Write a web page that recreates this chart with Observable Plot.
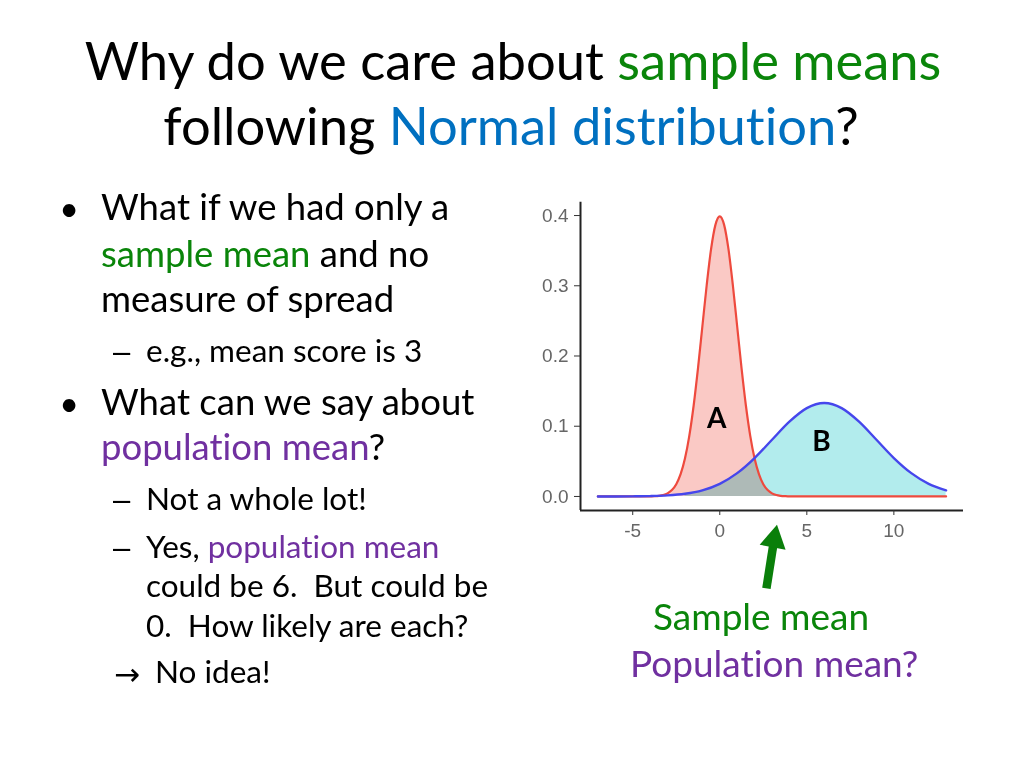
<!DOCTYPE html>
<html>
<head>
<meta charset="utf-8">
<script src="https://cdn.jsdelivr.net/npm/d3@7"></script>
<script src="https://cdn.jsdelivr.net/npm/@observablehq/plot@0.6"></script>
<style>
  html, body { margin: 0; padding: 0; background: #fff; width: 1024px; height: 768px; overflow: hidden; }
  #slide { position: absolute; left: 0; top: 0; }
  #chart { position: absolute; left: 520px; top: 170px; }
  #slide text { font-family: Lato, "Open Sans", sans-serif; white-space: pre; font-variant-ligatures: none; font-feature-settings: "liga" 0, "dlig" 0; }
</style>
</head>
<body>
<svg id="slide" width="1024" height="768"></svg>
<div id="chart"></div>
<script>
// ---- data ----
const xA = [-7,-6,-5,-4,-3.75,-3.5,-3.25,-3,-2.75,-2.5,-2.25,-2,-1.75,-1.5,-1.25,-1,-0.75,-0.5,-0.25,0,0.25,0.5,0.75,1,1.25,1.5,1.75,2,2.25,2.5,2.75,3,3.25,3.5,3.75,4,5,6,7,8,9,10,11,12,13];
const densityA = [0,0,0,0.0001,0.0004,0.0009,0.002,0.0044,0.0091,0.0175,0.0317,0.054,0.0863,0.1295,0.1826,0.242,0.3011,0.3521,0.3867,0.3989,0.3867,0.3521,0.3011,0.242,0.1826,0.1295,0.0863,0.054,0.0317,0.0175,0.0091,0.0044,0.002,0.0009,0.0004,0.0001,0,0,0,0,0,0,0,0,0];
const xB = [-7,-6,-5,-4,-3,-2,-1,0,1,2,3,4,5,6,7,8,9,10,11,12,13];
const densityB = [0.00001,0.00004,0.00016,0.00051,0.00148,0.0038,0.0087,0.018,0.0332,0.0547,0.0807,0.1065,0.1258,0.133,0.1258,0.1065,0.0807,0.0547,0.0332,0.018,0.0087];
const fillStartB = -2;
const xTicks = [-5, 0, 5, 10];
const yTicks = [0, 0.1, 0.2, 0.3, 0.4];
const curveLabels = ["A", "B"];
const labelX = [-0.17, 5.84];
const labelY = [0.1096, 0.0773];
const sampleMeanArrowX = [2.68, 3.12];
const sampleMeanArrowY = [-0.131, -0.0617];

// ---- build tables ----
const A = xA.map((x, i) => ({x, y: densityA[i]}));
const B = xB.map((x, i) => ({x, y: densityB[i]}));
const Bfill = B.filter(d => d.x >= fillStartB);
const labels = curveLabels.map((t, i) => ({t, x: labelX[i], y: labelY[i]}));
const arrow = [{x1: sampleMeanArrowX[0], y1: sampleMeanArrowY[0], x2: sampleMeanArrowX[1], y2: sampleMeanArrowY[1]}];
const green = "#0a7f0a";

const chart = Plot.plot({
  width: 460, height: 440,
  marginLeft: 60, marginRight: 17, marginTop: 31.7, marginBottom: 100,
  x: {domain: [-8, 14]},
  y: {domain: [-0.02, 0.419]},
  style: {background: "transparent", fontFamily: "'Liberation Sans', Arial, sans-serif", overflow: "visible"},
  marks: [
    Plot.areaY(Bfill, {x: "x", y: "y", fill: "#00BFC4", fillOpacity: 0.3, curve: "monotone-x"}),
    Plot.areaY(A, {x: "x", y: "y", fill: "#fac9c5", mixBlendMode: "multiply", curve: "monotone-x"}),
    Plot.line(A, {x: "x", y: "y", stroke: "#ee4a3e", strokeWidth: 2.2, curve: "monotone-x"}),
    Plot.line(B, {x: "x", y: "y", stroke: "#4646ec", strokeWidth: 2.4, curve: "monotone-x"}),
    Plot.ruleY([-0.02], {stroke: "#222", strokeWidth: 2}),
    Plot.ruleX([-8], {stroke: "#222", strokeWidth: 2}),
    Plot.axisX({ticks: xTicks, tickFormat: d => String(d), tickSize: 5, tickPadding: 8, stroke: "#333", fill: "#666", fontSize: 19, label: null}),
    Plot.axisY({ticks: yTicks, tickFormat: d3.format(".1f"), tickSize: 6, tickPadding: 6, stroke: "#333", fill: "#666", fontSize: 19, label: null}),
    Plot.text(labels, {x: "x", y: "y", text: "t", fontSize: 28, fontWeight: "bold", fontFamily: "Lato, sans-serif", fill: "#000", lineAnchor: "middle"}),
    Plot.link(arrow, {x1: "x1", y1: "y1", x2: "x2", y2: "y2", stroke: green, strokeWidth: 8.5}),
    Plot.dot(arrow, {x: "x2", y: "y2", symbol: "triangle", r: 9.8, fill: green, rotate: 11})
  ]
});
document.getElementById("chart").appendChild(chart);

// ---- slide text ----
const svg = d3.select("#slide");
function line(x, y, size, parts, anchor = "start", family = null, weight = null) {
  const t = svg.append("text").attr("x", x).attr("y", y).attr("font-size", size).attr("text-anchor", anchor);
  if (family) t.style("font-family", family);
  if (weight) t.attr("font-weight", weight);
  for (const [s, c] of parts) t.append("tspan").attr("fill", c).text(s);
  return t;
}
const BLK = "#000", GRN = "#0a850a", BLU = "#0070c0", PUR = "#7030a0";
const LS = "'Liberation Sans', Arial, sans-serif";
line(513, 80, 52.5, [["Why do we care about ", BLK], ["sample means", GRN]], "middle");
line(511, 145, 52.5, [["following ", BLK], ["Normal distribution", BLU], ["?", BLK]], "middle");

line(69, 221, 34, [["•", BLK]], "middle");
line(101, 220, 36.5, [["What if we had only a", BLK]]);
line(101, 267, 36.5, [["sample mean", GRN], [" and no", BLK]]);
line(101, 312, 36.5, [["measure of spread", BLK]]);
line(113, 362, 31, [["–", BLK]], "start", LS);
line(146, 362, 31.5, [["e.g., mean score is 3", BLK]]);
line(69, 416, 34, [["•", BLK]], "middle");
line(101, 415, 36.5, [["What can we say about", BLK]]);
line(101, 460, 36.5, [["population mean", PUR], ["?", BLK]]);
line(113, 510, 31, [["–", BLK]], "start", LS);
line(146, 510, 31.5, [["Not a whole lot!", BLK]]);
line(113, 558, 31, [["–", BLK]], "start", LS);
line(146, 558, 31.5, [["Yes, ", BLK], ["population mean", PUR]]);
line(146, 597, 31.5, [["could be 6.  But could be", BLK]]);
line(146, 637, 31.5, [["0.  How likely are each?", BLK]]);
line(114, 685, 31, [["→", BLK]], "start", "'DejaVu Sans', sans-serif");
line(155, 683, 31.5, [["No idea!", BLK]]);

line(653, 630, 37, [["Sample mean", GRN]]);
line(630, 677, 37, [["Population mean?", PUR]]);
</script>
</body>
</html>
